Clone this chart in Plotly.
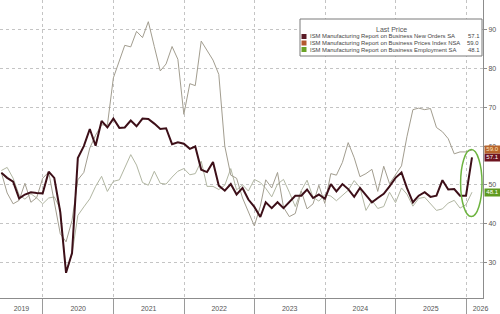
import pandas as pd
import plotly.graph_objects as go

# ---------------- data (monthly, May 2019 - Jan 2026) ----------------
start_month = "2019-06-01"
n_points = 81

new_orders = [
    53.1, 51.8, 50.8, 46.5, 47.5, 48.1, 47.9, 47.8,
    53.4, 51.8, 43.0, 27.3, 32.4, 56.9, 60.0, 64.4, 60.1, 66.5, 64.8, 67.1,
    64.7, 64.8, 66.6, 65.1, 67.1, 67.0, 65.8, 64.4, 64.6, 60.5, 61.0, 60.6,
    59.3, 59.9, 53.9, 53.3, 55.9, 49.8, 48.5, 50.2, 47.5, 49.2, 46.2, 44.3,
    41.7, 45.5, 44.0, 45.5, 44.0, 45.6, 47.2, 47.2, 48.8, 46.6, 47.5, 46.4,
    50.2, 48.3, 50.2, 48.9, 46.9, 49.2, 47.2, 45.5, 46.6, 47.7, 49.6, 51.8,
    53.2, 49.2, 45.5, 47.2, 48.1, 46.9, 47.2, 51.2, 48.8, 48.9, 47.2, 47.2,
    57.1,
]
prices = [
    53.2, 47.9, 45.1, 46.0, 50.4, 45.5, 46.7, 51.7,
    53.3, 45.9, 37.4, 35.3, 40.8, 51.3, 53.2, 59.5, 62.8, 65.5, 65.4, 77.6,
    82.1, 86.0, 85.6, 89.6, 88.0, 92.1, 85.7, 79.4, 81.2, 85.7, 82.4, 68.2,
    76.1, 75.6, 87.1, 84.6, 82.2, 78.5, 60.0, 52.5, 51.7, 46.6, 43.0, 39.4,
    44.5, 51.3, 49.2, 53.2, 44.2, 41.8, 42.6, 48.4, 43.8, 45.1, 49.9, 45.2,
    52.9, 52.5, 55.8, 60.9, 57.0, 52.1, 52.9, 54.0, 48.3, 54.8, 50.3, 52.5,
    54.9, 62.4, 69.4, 69.8, 69.4, 69.7, 64.8, 63.7, 61.9, 58.0, 58.5, 58.5,
    59.0,
]
employment = [
    53.7, 54.5, 51.7, 47.4, 46.3, 47.7, 46.6, 45.1,
    46.6, 46.9, 43.8, 27.5, 32.1, 42.1, 44.3, 46.4, 49.6, 52.2, 48.3, 50.9,
    51.3, 54.4, 57.8, 55.1, 50.6, 49.9, 53.5, 50.4, 50.2, 52.0, 53.5, 54.2,
    52.6, 52.9, 56.1, 49.6, 49.6, 48.8, 49.9, 54.2, 48.7, 50.0, 48.4, 51.4,
    50.6, 49.1, 46.9, 50.2, 51.4, 48.1, 44.4, 48.5, 51.2, 46.8, 45.8, 47.5,
    47.1, 45.9, 47.4, 48.6, 51.1, 49.3, 43.4, 46.0, 43.9, 44.4, 48.1, 45.4,
    49.2, 47.6, 44.5, 46.5, 46.8, 45.0, 43.4, 43.8, 45.3, 46.0, 44.0, 44.9,
    48.1,
]

series_names = [
    "ISM Manufacturing Report on Business New Orders SA",
    "ISM Manufacturing Report on Business Prices Index NSA",
    "ISM Manufacturing Report on Business Employment SA",
]
legend_title = "Last Price"
year_labels = ["2019", "2020", "2021", "2022", "2023", "2024", "2025", "2026"]
y_ticks = [30, 40, 50, 60, 70, 80, 90]

# -------------------------------------------------------------------
dates = pd.date_range(start=start_month, periods=n_points, freq="MS") - pd.Timedelta(days=1)

W, H = 500, 314
ML, MR, MT, MB = 0, 17, 0, 16
PW, PH = W - ML - MR, H - MT - MB


def px(xp):
    return (xp - ML) / PW


def py(yp):
    return 1 - (yp - MT) / PH


line_colors = ["#3d0f18", "#a29d8f", "#b1b6a2"]
swatch_colors = ["#5a1a26", "#b4582e", "#6aa325"]
badge_bg = ["#6e1420", "#b8642c", "#5f9a1f"]
badge_fg = ["#ffffff", "#ffe9c0", "#ffffff"]
badge_shift = [-0.6, 0.6, 0]
values = [new_orders, prices, employment]
widths = [2.0, 1.0, 1.0]

fig = go.Figure()
for i in [2, 1, 0]:
    fig.add_trace(go.Scatter(
        x=dates, y=values[i], mode="lines", name=series_names[i],
        line=dict(color=line_colors[i], width=widths[i]),
        showlegend=False, hoverinfo="skip",
    ))

year_mid = [pd.Timestamp("2019-09-12")] + [pd.Timestamp(f"{y}-07-02") for y in range(2020, 2026)] + [pd.Timestamp("2026-03-16")]
year_starts = [pd.Timestamp(f"{y}-01-01") for y in range(2020, 2027)]

font_family = "Liberation Sans, Arial, sans-serif"

fig.update_layout(
    width=W, height=H,
    margin=dict(l=ML, r=MR, t=MT, b=MB),
    paper_bgcolor="white", plot_bgcolor="white",
    font=dict(family=font_family, size=7, color="#555555"),
    xaxis=dict(
        type="date", range=["2019-05-24", "2026-03-29"],
        tickvals=year_mid, ticktext=year_labels, ticks="",
        ticklabelstandoff=4,
        showgrid=False, zeroline=False,
        showline=True, linecolor="#8c8c8c", linewidth=1,
        tickfont=dict(size=7, color="#555555"),
        minor=dict(tickvals=year_starts, showgrid=True, griddash="dot",
                   gridcolor="#c4c4c4", gridwidth=1,
                   ticks="outside", ticklen=16, tickcolor="#9a9a9a", tickwidth=1),
    ),
    yaxis=dict(
        side="right", range=[20.8, 97.7],
        tickvals=y_ticks, ticks="outside", ticklen=3, tickcolor="#8c8c8c",
        showgrid=True, griddash="dot", gridcolor="#c4c4c4", gridwidth=1,
        zeroline=False, showline=True, linecolor="#8c8c8c", linewidth=1,
        tickfont=dict(size=7, color="#555555"),
    ),
)

shapes = []
# legend box
shapes.append(dict(type="rect", xref="paper", yref="paper",
                   x0=px(300), x1=px(482), y0=py(56), y1=py(19),
                   line=dict(color="#7a7a7a", width=1), fillcolor="white", layer="above"))
annotations = []
annotations.append(dict(xref="paper", yref="paper", x=px(391), y=py(29.5),
                        text=legend_title, showarrow=False, xanchor="center", yanchor="middle",
                        font=dict(size=7, color="#555555")))
row_y = [36.5, 43.0, 49.5]
for i in range(3):
    shapes.append(dict(type="rect", xref="paper", yref="paper",
                       x0=px(301.5), x1=px(306.5), y0=py(row_y[i] + 2.5), y1=py(row_y[i] - 2.5),
                       line=dict(width=0), fillcolor=swatch_colors[i], layer="above"))
    annotations.append(dict(xref="paper", yref="paper", x=px(308), y=py(row_y[i]),
                            text=series_names[i], showarrow=False, xanchor="left", yanchor="middle",
                            font=dict(size=5.9, color="#444444")))
    annotations.append(dict(xref="paper", yref="paper", x=px(481), y=py(row_y[i]),
                            text=f"{values[i][-1]:.1f}", showarrow=False, xanchor="right", yanchor="middle",
                            font=dict(size=5.9, color="#444444")))
    # last value badge on the axis
    annotations.append(dict(xref="paper", yref="y", x=1.0, y=values[i][-1], xshift=1,
                            yshift=badge_shift[i],
                            text=f"{values[i][-1]:.1f}", showarrow=False, xanchor="left", yanchor="middle",
                            bgcolor=badge_bg[i], borderpad=0, width=15, height=6.5,
                            font=dict(size=6, color=badge_fg[i])))

# green highlight ellipse around the latest readings
shapes.append(dict(type="circle", xref="x", yref="y",
                   x0="2025-12-03", x1="2026-03-24", y0=41.8, y1=59.1,
                   line=dict(color="#6db33f", width=1.5), fillcolor="rgba(0,0,0,0)"))

fig.update_layout(shapes=shapes, annotations=annotations)
fig.write_html("out.html")
